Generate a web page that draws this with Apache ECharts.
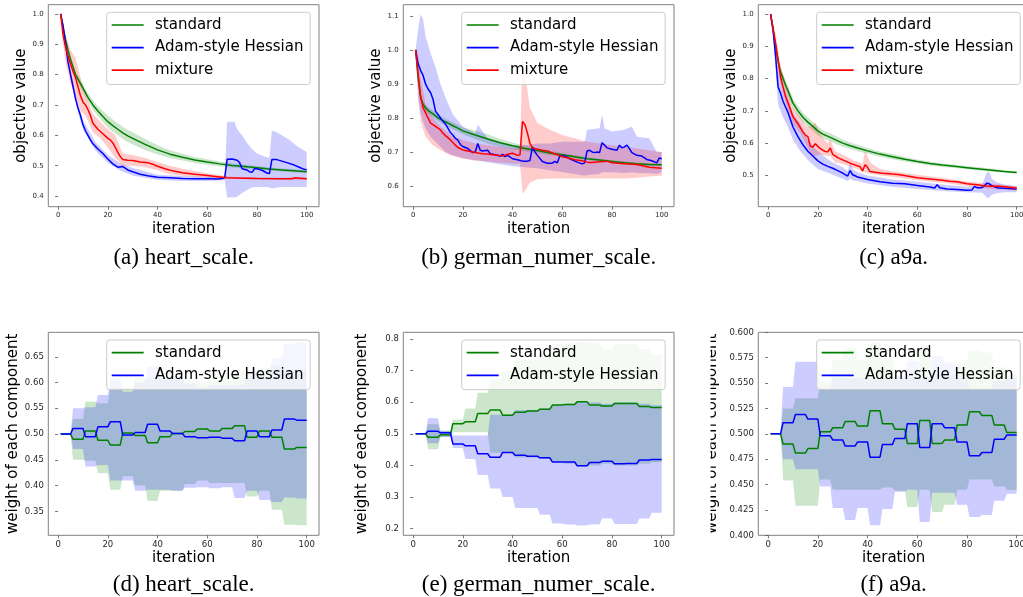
<!DOCTYPE html>
<html><head><meta charset="utf-8">
<script src="https://cdn.jsdelivr.net/npm/echarts@6/dist/echarts.min.js"></script>
<style>html,body{margin:0;padding:0;background:#fff}#c{width:1023px;height:597px}</style>
</head><body><div id="c"></div>
<script>
// ---------------- DATA ----------------
const SERIES_NAMES = ['standard', 'Adam-style Hessian', 'mixture'];
const X_TICKS = [0, 20, 40, 60, 80, 100];
const Y_TICKS_A = [0.4, 0.5, 0.6, 0.7, 0.8, 0.9, 1.0];
const Y_TICKS_B = [0.6, 0.7, 0.8, 0.9, 1.0, 1.1];
const Y_TICKS_C = [0.5, 0.6, 0.7, 0.8, 0.9, 1.0];
const Y_TICKS_D = [0.35, 0.40, 0.45, 0.50, 0.55, 0.60, 0.65];
const Y_TICKS_E = [0.2, 0.3, 0.4, 0.5, 0.6, 0.7, 0.8];
const Y_TICKS_F = [0.400, 0.425, 0.450, 0.475, 0.500, 0.525, 0.550, 0.575, 0.600];
const CAPTIONS = ['(a) heart_scale.', '(b) german_numer_scale.', '(c) a9a.', '(d) heart_scale.', '(e) german_numer_scale.', '(f) a9a.'];

// (a) heart_scale objective
const aStdX = [1,2,3,4,5,6,7,8,10,12,14,16,18,20,22,24,26,28,30,35,40,45,50,55,60,65,70,75,80,85,90,95,100];
const aStdY = [1.0,0.955,0.915,0.88,0.85,0.825,0.80,0.785,0.755,0.725,0.70,0.68,0.662,0.645,0.632,0.62,0.608,0.598,0.59,0.57,0.552,0.538,0.528,0.519,0.512,0.506,0.501,0.497,0.493,0.489,0.486,0.483,0.48];
const aStdLo = [1.0,0.95,0.907,0.87,0.84,0.813,0.788,0.773,0.742,0.711,0.685,0.664,0.644,0.625,0.612,0.60,0.588,0.578,0.57,0.552,0.537,0.525,0.517,0.509,0.503,0.498,0.494,0.491,0.487,0.484,0.481,0.478,0.475];
const aStdHi = [1.0,0.96,0.923,0.89,0.86,0.837,0.812,0.797,0.768,0.739,0.715,0.696,0.68,0.665,0.652,0.64,0.628,0.618,0.61,0.588,0.567,0.551,0.539,0.529,0.521,0.514,0.508,0.503,0.499,0.494,0.491,0.488,0.485];
const aAdaX = [1,2,3,4,5,6,7,8,9,10,11,12,13,14,16,18,20,22,24,26,27,28,30,33,36,40,45,50,55,60,64,66,67,68,70,72,73,74,76,77,78,79,80,82,84,85,86,88,90,92,95,97,99,100];
const aAdaY = [1.0,0.96,0.90,0.84,0.80,0.76,0.72,0.69,0.665,0.635,0.615,0.60,0.585,0.572,0.555,0.54,0.522,0.506,0.495,0.497,0.492,0.486,0.48,0.472,0.467,0.462,0.46,0.458,0.457,0.457,0.456,0.458,0.46,0.521,0.522,0.518,0.51,0.49,0.486,0.48,0.478,0.49,0.49,0.485,0.476,0.474,0.52,0.52,0.515,0.51,0.502,0.495,0.488,0.487];
const aAdaBX = [1,3,5,8,10,15,20,25,30,40,50,60,67,68,71,72,74,76,78,80,83,85,86,88,90,93,96,99,100];
const aAdaLo = [1.0,0.89,0.785,0.675,0.62,0.55,0.51,0.483,0.468,0.453,0.45,0.45,0.452,0.395,0.395,0.398,0.41,0.42,0.428,0.43,0.43,0.428,0.425,0.428,0.43,0.43,0.43,0.43,0.43];
const aAdaHi = [1.0,0.91,0.815,0.705,0.65,0.578,0.535,0.508,0.492,0.47,0.466,0.464,0.464,0.645,0.645,0.62,0.60,0.575,0.555,0.54,0.53,0.525,0.616,0.61,0.60,0.585,0.565,0.55,0.545];
const aMixX = [1,2,3,4,5,6,7,8,9,10,11,12,13,14,15,16,18,20,21,22,23,24,25,26,28,30,33,36,38,40,43,46,50,55,60,65,68,75,80,90,94,95,100];
const aMixY = [1.0,0.93,0.89,0.86,0.835,0.81,0.79,0.76,0.73,0.71,0.70,0.685,0.665,0.64,0.63,0.62,0.605,0.59,0.585,0.575,0.56,0.545,0.53,0.52,0.518,0.517,0.512,0.51,0.505,0.498,0.49,0.483,0.477,0.472,0.468,0.463,0.46,0.459,0.458,0.457,0.457,0.46,0.457];
const aMixBX = [1,2,3,5,7,9,11,14,17,20,23,26,30,35,40,45,50,60,70,80,90,100];
const aMixLo = [1.0,0.9,0.84,0.77,0.73,0.68,0.665,0.61,0.59,0.56,0.525,0.5,0.5,0.495,0.485,0.472,0.467,0.46,0.456,0.455,0.454,0.453];
const aMixHi = [1.0,0.96,0.93,0.88,0.855,0.79,0.735,0.67,0.645,0.62,0.6,0.54,0.535,0.525,0.512,0.5,0.49,0.475,0.464,0.462,0.46,0.461];

// (b) german_numer_scale objective
const bStdX = [1,2,3,4,5,6,8,10,12,14,16,18,20,25,30,35,40,45,50,55,60,65,70,75,80,85,90,95,100];
const bStdY = [1.0,0.92,0.86,0.84,0.83,0.822,0.812,0.80,0.792,0.785,0.777,0.77,0.762,0.75,0.738,0.727,0.718,0.71,0.704,0.697,0.692,0.686,0.68,0.676,0.672,0.668,0.665,0.663,0.662];
const bStdLo = [1.0,0.91,0.85,0.83,0.82,0.812,0.802,0.79,0.782,0.775,0.767,0.76,0.752,0.738,0.724,0.715,0.708,0.702,0.697,0.691,0.686,0.681,0.676,0.672,0.668,0.664,0.661,0.659,0.658];
const bStdHi = [1.0,0.93,0.87,0.85,0.84,0.832,0.822,0.81,0.802,0.795,0.787,0.78,0.772,0.762,0.752,0.739,0.728,0.718,0.711,0.703,0.698,0.691,0.684,0.68,0.676,0.672,0.669,0.667,0.666];
const bAdaX = [1,2,3,4,5,6,7,8,9,10,11,12,13,14,15,16,17,18,19,20,22,24,25,26,27,28,30,31,33,35,36,37,38,40,42,44,46,47,48,49,50,52,54,56,57,58,59,61,63,66,68,69,70,71,72,73,74,75,76,77,78,80,82,83,84,85,86,87,88,90,92,94,96,98,99,100];
const bAdaY = [1.0,0.96,0.94,0.925,0.90,0.885,0.875,0.855,0.82,0.81,0.80,0.79,0.782,0.77,0.757,0.75,0.74,0.735,0.722,0.716,0.71,0.698,0.70,0.725,0.705,0.703,0.705,0.695,0.692,0.688,0.693,0.686,0.69,0.68,0.677,0.673,0.673,0.675,0.715,0.70,0.69,0.672,0.667,0.667,0.672,0.668,0.688,0.688,0.68,0.67,0.665,0.668,0.703,0.705,0.70,0.698,0.70,0.698,0.727,0.72,0.712,0.708,0.705,0.72,0.712,0.715,0.72,0.71,0.698,0.69,0.688,0.678,0.674,0.668,0.682,0.68];
const bAdaBX = [1,2,3,4,5,7,9,11,13,16,20,25,26,30,35,40,45,50,55,60,65,69,70,75,76,77,80,85,88,90,95,98,100];
const bAdaLo = [1.0,0.85,0.815,0.79,0.77,0.745,0.73,0.715,0.70,0.69,0.682,0.675,0.675,0.67,0.664,0.658,0.655,0.652,0.646,0.64,0.635,0.63,0.632,0.635,0.64,0.64,0.64,0.638,0.64,0.638,0.637,0.635,0.64];
const bAdaHi = [1.0,1.06,1.105,1.09,1.04,0.99,0.95,0.9,0.86,0.81,0.775,0.755,0.78,0.74,0.73,0.72,0.72,0.725,0.725,0.73,0.73,0.73,0.765,0.77,0.81,0.77,0.76,0.765,0.775,0.745,0.74,0.70,0.70];
const bMixX = [1,2,3,4,5,6,7,8,9,10,11,12,13,14,15,16,17,18,20,22,24,26,28,30,32,34,36,38,40,42,43,44,45,46,47,48,50,52,54,56,58,60,62,65,68,70,72,75,78,80,85,90,95,100];
const bMixY = [1.0,0.93,0.865,0.83,0.815,0.80,0.785,0.78,0.775,0.77,0.765,0.755,0.748,0.742,0.735,0.728,0.72,0.713,0.706,0.703,0.70,0.697,0.695,0.694,0.692,0.69,0.688,0.693,0.696,0.69,0.692,0.79,0.78,0.755,0.725,0.712,0.708,0.705,0.703,0.697,0.692,0.686,0.683,0.677,0.674,0.67,0.669,0.671,0.673,0.668,0.665,0.663,0.655,0.652];
const bMixBX = [1,2,3,5,8,11,15,20,25,30,35,40,43,44,45,47,50,55,60,65,70,75,80,85,90,95,100];
const bMixLo = [1.0,0.88,0.79,0.745,0.72,0.705,0.69,0.68,0.675,0.672,0.668,0.665,0.665,0.578,0.585,0.61,0.62,0.622,0.622,0.622,0.622,0.622,0.622,0.622,0.624,0.628,0.63];
const bMixHi = [1.0,0.99,0.92,0.84,0.80,0.775,0.75,0.735,0.725,0.72,0.715,0.71,0.712,0.99,0.93,0.83,0.785,0.765,0.75,0.74,0.73,0.725,0.72,0.715,0.71,0.705,0.70];

// (c) a9a objective
const cStdX = [1,2,3,4,5,6,7,8,10,12,14,16,18,20,22,25,28,30,33,36,40,45,50,55,60,65,70,75,80,85,90,95,100];
const cStdY = [1.0,0.95,0.90,0.855,0.82,0.80,0.78,0.762,0.724,0.70,0.68,0.665,0.652,0.638,0.628,0.618,0.607,0.60,0.592,0.585,0.576,0.566,0.558,0.55,0.543,0.537,0.532,0.528,0.524,0.52,0.516,0.512,0.509];
const cStdLo = [1.0,0.94,0.89,0.843,0.807,0.786,0.765,0.747,0.709,0.685,0.665,0.65,0.638,0.624,0.615,0.605,0.595,0.589,0.582,0.575,0.567,0.558,0.55,0.543,0.537,0.531,0.527,0.523,0.519,0.515,0.511,0.508,0.505];
const cStdHi = [1.0,0.96,0.91,0.867,0.833,0.814,0.795,0.777,0.739,0.715,0.695,0.68,0.666,0.652,0.641,0.631,0.619,0.611,0.602,0.595,0.585,0.574,0.566,0.557,0.549,0.543,0.537,0.533,0.529,0.525,0.521,0.516,0.513];
const cAdaX = [1,2,3,4,5,6,7,8,10,12,14,16,18,20,22,24,26,28,30,32,33,34,36,40,45,50,55,60,65,67,68,69,72,76,80,82,83,84,86,87,88,89,90,92,95,100];
const cAdaY = [1.0,0.95,0.87,0.775,0.755,0.73,0.712,0.695,0.65,0.62,0.595,0.575,0.56,0.545,0.535,0.528,0.522,0.515,0.507,0.498,0.515,0.502,0.495,0.487,0.48,0.476,0.474,0.469,0.464,0.461,0.471,0.462,0.458,0.456,0.454,0.455,0.466,0.462,0.462,0.468,0.476,0.474,0.468,0.462,0.46,0.458];
const cAdaBX = [1,2,3,4,6,8,10,13,16,20,25,30,32,33,34,36,40,50,60,70,80,86,87,88,89,90,92,95,100];
const cAdaLo = [1.0,0.93,0.83,0.72,0.68,0.65,0.61,0.575,0.548,0.52,0.505,0.49,0.483,0.49,0.485,0.482,0.475,0.465,0.458,0.452,0.448,0.446,0.44,0.43,0.432,0.44,0.445,0.448,0.448];
const cAdaHi = [1.0,0.97,0.91,0.83,0.78,0.74,0.69,0.66,0.61,0.575,0.545,0.525,0.513,0.545,0.52,0.51,0.5,0.487,0.48,0.472,0.465,0.47,0.49,0.51,0.51,0.49,0.478,0.472,0.466];
const cMixX = [1,2,3,4,5,6,7,8,10,12,14,15,16,17,18,19,20,21,22,23,24,25,26,28,30,33,35,37,38,39,40,41,43,46,50,53,56,60,66,70,73,76,80,85,87,90,93,96,100];
const cMixY = [1.0,0.955,0.91,0.858,0.805,0.775,0.745,0.725,0.682,0.66,0.635,0.625,0.62,0.59,0.588,0.598,0.59,0.583,0.578,0.574,0.573,0.585,0.565,0.555,0.548,0.538,0.532,0.527,0.514,0.533,0.525,0.512,0.51,0.507,0.504,0.502,0.498,0.493,0.488,0.485,0.482,0.48,0.474,0.47,0.467,0.466,0.466,0.464,0.46];
const cMixBX = [1,3,5,8,10,13,15,16,18,19,21,24,25,27,30,35,37,38,39,41,45,50,60,70,80,90,100];
const cMixLo = [1.0,0.89,0.78,0.7,0.66,0.63,0.6,0.585,0.56,0.56,0.565,0.56,0.56,0.54,0.535,0.522,0.516,0.51,0.51,0.505,0.5,0.496,0.485,0.477,0.467,0.458,0.453];
const cMixHi = [1.0,0.94,0.84,0.765,0.71,0.68,0.655,0.65,0.655,0.665,0.625,0.6,0.61,0.575,0.565,0.545,0.54,0.535,0.578,0.54,0.52,0.513,0.502,0.493,0.481,0.473,0.467];

// bottom row: one value per block of 5 iterations (1-5, 6-10, ..., 96-100)
const dStd = [0.5,0.49,0.506,0.488,0.479,0.502,0.497,0.483,0.495,0.501,0.505,0.51,0.506,0.511,0.516,0.494,0.506,0.494,0.471,0.474];
const dAda = [0.5,0.511,0.495,0.514,0.524,0.498,0.503,0.519,0.506,0.501,0.495,0.493,0.494,0.492,0.487,0.506,0.495,0.508,0.529,0.527];
const dStdLo = [0.5,0.45,0.448,0.424,0.392,0.418,0.40,0.37,0.39,0.39,0.403,0.41,0.405,0.405,0.405,0.379,0.39,0.353,0.324,0.323];
const dStdHi = [0.5,0.529,0.563,0.56,0.59,0.59,0.61,0.608,0.608,0.61,0.604,0.603,0.605,0.603,0.624,0.61,0.628,0.632,0.623,0.625];
const dAdaLo = [0.5,0.471,0.437,0.44,0.41,0.41,0.39,0.392,0.392,0.39,0.396,0.397,0.395,0.397,0.376,0.39,0.372,0.368,0.377,0.375];
const dAdaHi = [0.5,0.55,0.552,0.576,0.608,0.582,0.60,0.63,0.61,0.61,0.597,0.59,0.595,0.595,0.595,0.621,0.61,0.647,0.676,0.677];

const eStd = [0.5,0.489,0.497,0.532,0.538,0.564,0.575,0.559,0.568,0.572,0.578,0.591,0.593,0.601,0.591,0.588,0.596,0.596,0.586,0.583];
const eAda = [0.5,0.508,0.503,0.468,0.462,0.437,0.426,0.441,0.432,0.429,0.424,0.411,0.411,0.399,0.409,0.413,0.405,0.406,0.417,0.419];
const eStdLo = [0.5,0.451,0.49,0.505,0.505,0.505,0.44,0.44,0.425,0.425,0.42,0.41,0.405,0.397,0.40,0.405,0.40,0.40,0.405,0.41];
const eStdHi = [0.5,0.53,0.51,0.545,0.58,0.63,0.673,0.70,0.735,0.735,0.756,0.784,0.787,0.79,0.787,0.768,0.785,0.785,0.768,0.75];
const eAdaLo = [0.5,0.47,0.49,0.455,0.42,0.37,0.327,0.30,0.265,0.265,0.244,0.216,0.213,0.21,0.213,0.232,0.215,0.215,0.232,0.25];
const eAdaHi = [0.5,0.549,0.51,0.495,0.495,0.495,0.56,0.56,0.575,0.575,0.58,0.59,0.595,0.603,0.60,0.595,0.60,0.60,0.595,0.59];

const fStd = [0.5,0.49,0.481,0.4855,0.502,0.506,0.512,0.5076,0.5227,0.51,0.5046,0.4905,0.5132,0.4905,0.494,0.5086,0.5217,0.518,0.5086,0.5013];
const fAda = [0.5,0.5109,0.519,0.5145,0.498,0.494,0.488,0.492,0.477,0.4895,0.4954,0.51,0.4865,0.51,0.506,0.4918,0.4783,0.4815,0.4947,0.4987];
const fStdLo = [0.5,0.454,0.429,0.429,0.455,0.445,0.445,0.445,0.445,0.447,0.444,0.428,0.445,0.423,0.43,0.445,0.455,0.455,0.448,0.445];
const fStdHi = [0.5,0.525,0.535,0.535,0.552,0.573,0.585,0.573,0.59,0.574,0.557,0.555,0.587,0.558,0.558,0.57,0.582,0.58,0.566,0.559];
const fAdaLo = [0.5,0.475,0.465,0.465,0.448,0.427,0.415,0.427,0.41,0.426,0.443,0.445,0.413,0.442,0.442,0.43,0.418,0.42,0.434,0.441];
const fAdaHi = [0.5,0.546,0.571,0.571,0.545,0.555,0.555,0.555,0.555,0.553,0.556,0.572,0.555,0.577,0.57,0.555,0.545,0.545,0.552,0.555];

// ---------------- STYLE / LAYOUT ----------------
const LINE_COLORS = ['#008000', '#0000ff', '#ff0000'];
const BAND_COLORS = ['rgba(0,128,0,0.2)', 'rgba(0,0,255,0.2)', 'rgba(255,0,0,0.2)'];
const SANS = 'DejaVu Sans';
const SERIF = 'Liberation Serif';
const GRID_W = 270.7;
const PANELS = [
  {left: 48.3,  top: 4.7,   h: 202, ymin: 0.365, ymax: 1.03,  yt: Y_TICKS_A, dec: 1, fs: 7, ylab: 'objective value', ylx: 21,    yMargin: 4.7, xMargin: 4.6},
  {left: 403.3, top: 4.7,   h: 202, ymin: 0.539, ymax: 1.133, yt: Y_TICKS_B, dec: 1, fs: 7, ylab: 'objective value', ylx: 376,   yMargin: 4.7, xMargin: 4.6},
  {left: 758.3, top: 4.7,   h: 202, ymin: 0.403, ymax: 1.029, yt: Y_TICKS_C, dec: 1, fs: 7, ylab: 'objective value', ylx: 731,   yMargin: 4.7, xMargin: 4.6},
  {left: 48.3,  top: 332.3, h: 203, ymin: 0.3035, ymax: 0.6975, yt: Y_TICKS_D, dec: 2, fs: 8.5, ylab: 'weight of each component', ylx: 12.8, yMargin: 4.5, xMargin: 4.7},
  {left: 403.3, top: 332.3, h: 203, ymin: 0.179, ymax: 0.821, yt: Y_TICKS_E, dec: 1, fs: 8.5, ylab: 'weight of each component', ylx: 362,   yMargin: 4.5, xMargin: 4.7},
  {left: 758.3, top: 332.3, h: 203, ymin: 0.4,   ymax: 0.6,   yt: Y_TICKS_F, dec: 3, fs: 8.5, ylab: 'weight of each component', ylx: 712,   yMargin: 4.5, xMargin: 4.7}
];

// ---------------- BUILD ----------------
function pairs(xs, ys) { return xs.map((x, j) => [x, ys[j]]); }
const BLOCK_X = [];
for (let k = 0; k < 20; k++) { BLOCK_X.push(5 * k + 1, 5 * k + 5); }
function blockVals(v) { const out = []; v.forEach(a => { out.push(a, a); }); return out; }

const series = [];
function addBand(i, ci, xs, lo, hi) {
  series.push({
    type: 'custom', name: '_band' + i + '_' + ci, xAxisIndex: i, yAxisIndex: i, silent: true, z: 1,
    data: xs.map((x, j) => [x, lo[j], hi[j]]),
    encode: {x: 0, y: [1, 2]},
    renderItem: function (params, api) {
      if (params.dataIndex !== 0) return null;
      const pts = [];
      for (let j = 0; j < xs.length; j++) pts.push(api.coord([xs[j], hi[j]]));
      for (let j = xs.length - 1; j >= 0; j--) pts.push(api.coord([xs[j], lo[j]]));
      return {type: 'polygon', shape: {points: pts}, style: {fill: BAND_COLORS[ci], stroke: null}};
    }
  });
}
function addLine(i, ci, xs, ys) {
  series.push({
    type: 'line', name: SERIES_NAMES[ci], xAxisIndex: i, yAxisIndex: i, z: 3,
    data: pairs(xs, ys), showSymbol: false, symbol: 'none', color: LINE_COLORS[ci],
    lineStyle: {width: 1.5, color: LINE_COLORS[ci]}, itemStyle: {color: LINE_COLORS[ci]}
  });
}
// panel a
addBand(0, 0, aStdX, aStdLo, aStdHi); addBand(0, 1, aAdaBX, aAdaLo, aAdaHi); addBand(0, 2, aMixBX, aMixLo, aMixHi);
addLine(0, 0, aStdX, aStdY); addLine(0, 1, aAdaX, aAdaY); addLine(0, 2, aMixX, aMixY);
// panel b
addBand(1, 0, bStdX, bStdLo, bStdHi); addBand(1, 1, bAdaBX, bAdaLo, bAdaHi); addBand(1, 2, bMixBX, bMixLo, bMixHi);
addLine(1, 0, bStdX, bStdY); addLine(1, 1, bAdaX, bAdaY); addLine(1, 2, bMixX, bMixY);
// panel c
addBand(2, 0, cStdX, cStdLo, cStdHi); addBand(2, 1, cAdaBX, cAdaLo, cAdaHi); addBand(2, 2, cMixBX, cMixLo, cMixHi);
addLine(2, 0, cStdX, cStdY); addLine(2, 1, cAdaX, cAdaY); addLine(2, 2, cMixX, cMixY);
// panels d, e, f
[[dStd, dAda, dStdLo, dStdHi, dAdaLo, dAdaHi], [eStd, eAda, eStdLo, eStdHi, eAdaLo, eAdaHi], [fStd, fAda, fStdLo, fStdHi, fAdaLo, fAdaHi]]
  .forEach((s, k) => {
    const i = 3 + k;
    addBand(i, 0, BLOCK_X, blockVals(s[2]), blockVals(s[3]));
    addBand(i, 1, BLOCK_X, blockVals(s[4]), blockVals(s[5]));
    addLine(i, 0, BLOCK_X, blockVals(s[0]));
    addLine(i, 1, BLOCK_X, blockVals(s[1]));
  });

const grids = [], xAxes = [], yAxes = [], legends = [], graphics = [];
PANELS.forEach((p, i) => {
  grids.push({left: p.left, top: p.top, width: GRID_W, height: p.h, show: true, borderColor: '#808080', borderWidth: 1,
    backgroundColor: 'transparent', containLabel: false, outerBoundsMode: 'none'});
  const tickStyle = {show: true, length: 3, lineStyle: {color: '#555', width: 0.8}};
  xAxes.push({type: 'value', gridIndex: i, min: -3.95, max: 104.95, axisLine: {show: false}, splitLine: {show: false},
    axisTick: Object.assign({customValues: X_TICKS}, tickStyle),
    axisLabel: {customValues: X_TICKS, fontSize: p.fs, fontFamily: SANS, color: '#262626', margin: p.xMargin,
      showMinLabel: true, showMaxLabel: true, hideOverlap: false, formatter: v => String(Math.round(v))}});
  yAxes.push({type: 'value', gridIndex: i, min: p.ymin, max: p.ymax, axisLine: {show: false}, splitLine: {show: false},
    axisTick: Object.assign({customValues: p.yt}, tickStyle),
    axisLabel: {customValues: p.yt, fontSize: p.fs, fontFamily: SANS, color: '#262626', margin: p.yMargin,
      showMinLabel: true, showMaxLabel: true, hideOverlap: false, formatter: v => Number(v).toFixed(p.dec)}});
  const top = i < 3;
  legends.push({
    orient: 'vertical', left: p.left + 58.4, top: top ? 12.3 : 340,
    data: top ? SERIES_NAMES.slice() : SERIES_NAMES.slice(0, 2),
    icon: 'rect', itemWidth: 32, itemHeight: 1.7, itemGap: 7.6,
    padding: [5.2, 6.7, 6.8, 5], backgroundColor: 'rgba(255,255,255,0.8)', borderColor: '#cccccc', borderWidth: 1, borderRadius: 3,
    textStyle: {fontSize: 15, fontFamily: SANS, color: '#000', lineHeight: 15, padding: [0, 0, 0, 6.3]},
    selectedMode: false
  });
  const cx = p.left + GRID_W / 2;
  graphics.push({type: 'text', x: cx, y: top ? 229.3 : 557.7, z: 10,
    style: {text: 'iteration', fontSize: 15, fontFamily: SANS, fill: '#000', align: 'center', verticalAlign: 'middle', textAlign: 'center', textVerticalAlign: 'middle'}});
  graphics.push({type: 'text', x: p.ylx, y: p.top + p.h / 2, rotation: Math.PI / 2, z: 10,
    style: {text: p.ylab, fontSize: 15, fontFamily: SANS, fill: '#000', align: 'center', verticalAlign: 'middle', textAlign: 'center', textVerticalAlign: 'middle'}});
  graphics.push({type: 'text', x: cx, y: top ? 258.3 : 585, z: 10,
    style: {text: CAPTIONS[i], fontSize: 23, fontFamily: SERIF, fill: '#000', align: 'center', verticalAlign: 'middle', textAlign: 'center', textVerticalAlign: 'middle'}});
});
// the (f) sub-figure is cropped on its left side
graphics.push({type: 'rect', z: 11, shape: {x: 690, y: 322, width: 20.5, height: 225}, style: {fill: '#ffffff'}});

const chart = echarts.init(document.getElementById('c'), null, {renderer: 'canvas'});
chart.setOption({
  animation: false,
  backgroundColor: '#ffffff',
  grid: grids, xAxis: xAxes, yAxis: yAxes, legend: legends,
  series: series, graphic: graphics
});
</script>
</body></html>
